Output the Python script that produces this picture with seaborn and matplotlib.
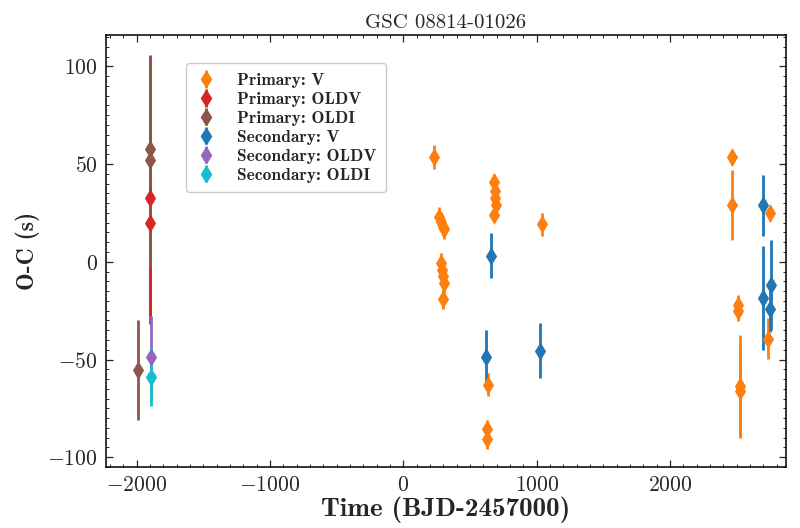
import matplotlib
matplotlib.use("Agg")
import matplotlib.pyplot as plt
from matplotlib.ticker import MultipleLocator, AutoMinorLocator
import numpy as np
import pandas as pd
import seaborn as sns

# O-C timing residuals for GSC 08814-01026
prim_v_t = [232, 270, 280, 295, 308, 280, 290, 300, 308, 295,
            683, 688, 690, 695, 683, 1038, 638, 625, 630,
            2468, 2468, 2751, 2738, 2508, 2513, 2526, 2526]
prim_v_oc = [53.7, 22.8, 20.6, 18.0, 16.7, -0.7, -4.0, -7.5, -10.9, -19.0,
             41.0, 36.0, 32.7, 29.3, 24.2, 19.2, -62.8, -85.7, -90.8,
             53.4, 29.0, 24.8, -39.3, -21.9, -25.3, -63.6, -66.2]
prim_v_err = [6, 5, 5, 5, 5, 5, 5, 5, 5, 5,
              4, 4, 4, 4, 4, 6, 6, 5, 5,
              4, 18, 4, 10.6, 5, 5, 26, 24]

prim_oldv_t = [-1900, -1900]
prim_oldv_oc = [32.5, 20.0]
prim_oldv_err = [60, 52]

prim_oldi_t = [-1990, -1900, -1900]
prim_oldi_oc = [-55.5, 57.5, 52.0]
prim_oldi_err = [25.5, 48, 54]

sec_v_t = [620, 658, 1025, 2696, 2700, 2756, 2751]
sec_v_oc = [-48.8, 3.1, -45.4, 29.0, -18.5, -11.7, -24.0]
sec_v_err = [14, 11.5, 14.3, 15.6, 26.4, 23, 12]

sec_oldv_t = [-1890]
sec_oldv_oc = [-48.5]
sec_oldv_err = [21]

sec_oldi_t = [-1890]
sec_oldi_oc = [-58.7]
sec_oldi_err = [15]

series = [
    ("Primary: V", prim_v_t, prim_v_oc, prim_v_err, "#ff7f0e"),
    ("Primary: OLDV", prim_oldv_t, prim_oldv_oc, prim_oldv_err, "#d62728"),
    ("Primary: OLDI", prim_oldi_t, prim_oldi_oc, prim_oldi_err, "#8c564b"),
    ("Secondary: V", sec_v_t, sec_v_oc, sec_v_err, "#1f77b4"),
    ("Secondary: OLDV", sec_oldv_t, sec_oldv_oc, sec_oldv_err, "#9467bd"),
    ("Secondary: OLDI", sec_oldi_t, sec_oldi_oc, sec_oldi_err, "#17becf"),
]

sns.set_theme(style="ticks")
plt.rcParams.update({
    "font.family": ["cmr10", "DejaVu Serif"],
    "axes.formatter.use_mathtext": True,
    "mathtext.fontset": "cm",
    "axes.unicode_minus": True,
    "xtick.direction": "in",
    "ytick.direction": "in",
    "xtick.top": True,
    "ytick.right": True,
    "axes.edgecolor": "black",
    "axes.linewidth": 1.1,
})

fig = plt.figure(figsize=(8, 5.28), dpi=100)
ax = fig.add_axes([0.1325, 0.1155, 0.85, 0.818])

handles = []
for label, t, oc, err, color in series:
    df = pd.DataFrame({"t": t, "oc": oc, "err": err})
    ax.errorbar(df["t"], df["oc"], yerr=df["err"], fmt="none",
                ecolor=color, elinewidth=2.0, capsize=0, zorder=2)
    sns.scatterplot(data=df, x="t", y="oc", marker="d", color=color,
                    s=90, linewidth=0, ax=ax, legend=False, zorder=3)
    h = ax.errorbar([], [], yerr=[], fmt="d", color=color, ms=8.5,
                    elinewidth=2.0, capsize=0, label=label)
    handles.append(h)

ax.set_xlim(-2230, 2870)
ax.set_ylim(-105, 116)
ax.xaxis.set_major_locator(MultipleLocator(1000))
ax.xaxis.set_minor_locator(AutoMinorLocator(10))
ax.yaxis.set_major_locator(MultipleLocator(50))
ax.yaxis.set_minor_locator(AutoMinorLocator(10))
ax.tick_params(which="major", length=5, width=0.9, labelsize=15.5, pad=6)
ax.tick_params(which="minor", length=2.5, width=0.7)

ax.set_xlabel("Time (BJD-2457000)", fontfamily="cmb10", fontsize=19.5, labelpad=1)
ax.set_ylabel("O-C (s)", fontfamily="cmb10", fontsize=17, labelpad=5)
ax.set_title("GSC 08814-01026", fontsize=15, pad=5)

leg = ax.legend(handles=handles, loc="upper left", bbox_to_anchor=(0.105, 0.955),
                prop={"family": "cmb10", "size": 12.5}, frameon=True,
                fancybox=True, edgecolor="#cccccc", framealpha=1,
                handlelength=1.2, handletextpad=1.2, labelspacing=0.22,
                borderpad=0.55)
for line in leg.get_lines():
    line.set_linewidth(0)

fig.savefig("out.png", dpi=100)
